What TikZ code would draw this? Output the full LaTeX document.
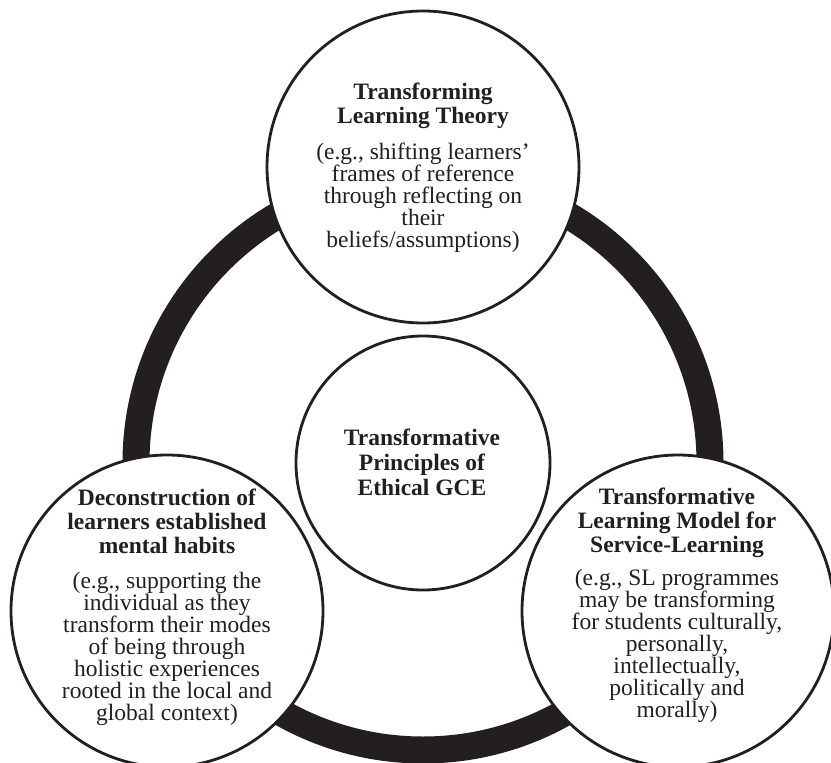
\documentclass[tikz,border=0pt]{standalone}
\usepackage{fontspec}
\setmainfont{Liberation Serif}
\definecolor{ink}{HTML}{231F20}
\begin{document}
\begin{tikzpicture}[x=1pt,y=-1pt,
  bubble/.style={circle,draw=ink,line width=2.8pt,fill=white,minimum size=312pt,inner sep=0pt},
  core/.style={circle,draw=ink,line width=2.8pt,fill=white,minimum size=254pt,inner sep=0pt},
  ringline/.style={draw=ink,line width=27pt},
  txtblock/.style={align=center,inner sep=0pt,text=ink,font=\fontsize{23.5}{22}\selectfont}]
\useasboundingbox (0,0) rectangle (831,763);
\coordinate (mid) at (423,463);
\draw[ringline] (mid) circle[radius=287pt];
\node[core] (ctr) at (mid) {};
\node[bubble] (top) at (423,167) {};
\node[bubble] (left) at (167,611) {};
\node[bubble] (right) at (678,611) {};
\node[txtblock] (ctrT) at (422,462) {\textbf{Transformative}\\[3pt]\textbf{Principles of}\\[3pt]\textbf{Ethical GCE}};
\node[txtblock] (topT) at (423,168) {\textbf{Transforming}\\[2pt]\textbf{Learning Theory}\\[14pt](e.g., shifting learners’\\frames of reference\\through reflecting on\\their\\beliefs/assumptions)};
\node[txtblock] (leftT) at (167,607) {\textbf{Deconstruction of}\\[2pt]\textbf{learners established}\\[2pt]\textbf{mental habits}\\[13pt](e.g., supporting the\\individual as they\\transform their modes\\of being through\\holistic experiences\\rooted in the local and\\global context)};
\node[txtblock] (rightT) at (677,605) {\textbf{Transformative}\\[2pt]\textbf{Learning Model for}\\[2pt]\textbf{Service-Learning}\\[11pt](e.g., SL programmes\\may be transforming\\for students culturally,\\personally,\\intellectually,\\politically and\\morally)};
\end{tikzpicture}
\end{document}
